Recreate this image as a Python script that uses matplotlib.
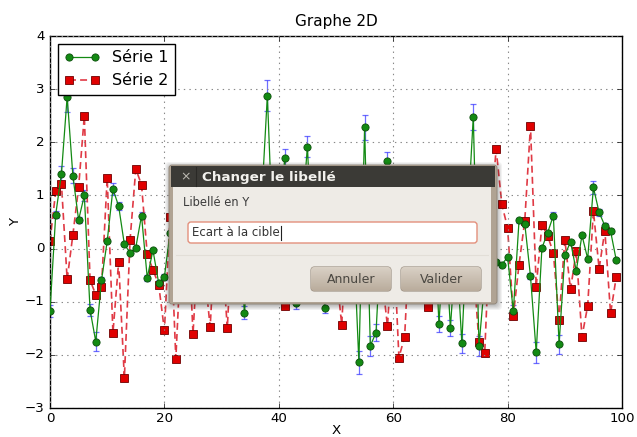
import numpy as np
import matplotlib
matplotlib.use('Agg')
import matplotlib.pyplot as plt
from matplotlib.patches import FancyBboxPatch, Rectangle
from matplotlib.colors import LinearSegmentedColormap

# données (x = 0..99)
x = np.arange(100)

serie1 = [-1.17, 0.64, 1.41, 2.86, 1.37, 0.54, 1.00, -1.15, -1.75, -0.60,
          0.14, 1.12, 0.80, 0.08, -0.08, 0.02, 0.62, -0.55, -0.03, -0.65,
          -0.53, 0.30, 0.50, -0.40, 0.90, -0.20, 0.40, -0.70, 0.20, 1.10,
          -0.30, 0.60, -0.50, 0.30, -1.21, 0.40, -0.20, 0.90, 2.88, 0.10,
          -0.60, 1.70, 0.20, -1.03, 0.50, 1.92, -0.40, 0.70, -1.11, 0.30,
          -0.50, 0.80, -0.20, 0.40, -2.14, 2.28, -1.83, -1.58, 0.50, 1.65,
          -0.30, 0.20, -0.70, 0.60, -0.10, 0.30, -0.60, 0.90, -1.42, 0.40,
          -1.49, 0.10, -1.78, 0.50, 2.48, -1.83, -0.60, 0.20, -0.25, -0.30,
          -0.16, -1.18, 0.53, 0.47, -0.52, -1.95, 0.01, 0.30, 0.62, -1.80,
          -0.13, 0.13, -0.42, 0.25, -0.19, 1.15, 0.68, 0.43, 0.33, -0.22]

serie2 = [0.14, 1.08, 1.22, -0.58, 0.26, 1.15, 2.50, -0.59, -0.87, -0.73,
          1.33, -1.59, -0.25, -2.44, 0.17, 1.50, 1.20, -0.11, -0.40, -0.68,
          -1.54, 0.60, -2.07, 0.20, 0.80, -1.61, 0.30, -0.40, -1.48, 0.50,
          0.10, -1.50, 0.70, -0.30, 0.40, -0.80, 0.90, 0.20, -0.50, 0.60,
          0.00, -1.08, 0.30, -0.60, 1.00, -0.20, 0.50, -0.70, 0.20, 0.80,
          -0.40, -1.43, 0.60, -0.10, 0.40, -0.60, 0.90, 0.10, -0.50, -1.46,
          0.30, -2.05, -1.66, 0.50, -0.30, 0.80, -1.10, 0.20, -0.50, 0.70,
          0.00, -0.60, 0.40, 1.00, -0.30, -1.76, -1.96, 0.60, 1.87, 0.83,
          0.39, -1.26, -0.30, 0.52, 2.31, -0.72, 0.45, 0.24, -0.08, -1.34,
          0.17, -0.77, -0.05, -1.66, -1.08, 0.71, -0.38, 0.34, -1.22, -0.53]

# erreur relative de 10 % sur la série 1
erreur_rel = 0.1
serie1 = np.array(serie1)
serie2 = np.array(serie2)
erreur = erreur_rel * np.abs(serie1)

plt.style.use('classic')
plt.rcParams['font.family'] = ['DejaVu Sans']
plt.rcParams['font.size'] = 9.6

fig = plt.figure(figsize=(6.37, 4.37), dpi=100, facecolor='white')
ax = fig.add_axes([50 / 637, 29 / 437, 572 / 637, 372 / 437])

ax.errorbar(x, serie1, yerr=erreur, fmt='none', ecolor='#3030ff', alpha=0.7,
            elinewidth=0.9, capsize=2.5, capthick=0.9, zorder=2)
ax.plot(x, serie1, 'o-', color='#138a13', lw=0.9, ms=5.2, mec='#0c4f0c',
        mew=0.6, label='Série 1', zorder=3)
ax.plot(x, serie2, 's--', color='#e03a45', lw=1.2, ms=5.3, mfc='#e00000',
        mec='#700000', mew=0.6, dashes=(5, 3), label='Série 2', zorder=2.5)

ax.set_xlim(0, 100)
ax.set_ylim(-3, 4)
ax.set_xticks([0, 20, 40, 60, 80, 100])
ax.set_yticks(range(-3, 5))
ax.grid(True, color='#888888', linestyle=':', linewidth=0.8)
ax.tick_params(direction='in', length=3.5, labelsize=9.6)
ax.tick_params(axis='x', pad=3)
ax.set_title('Graphe 2D', fontsize=11, pad=7)
ax.set_xlabel('X', fontsize=9.6, labelpad=-1)
ax.set_ylabel('Y', fontsize=9.6, labelpad=2)
leg = ax.legend(loc='upper left', numpoints=2, fontsize=11.5, fancybox=False,
                borderaxespad=0.5, handlelength=2.2)
leg.get_frame().set_linewidth(1.0)

# boîte de dialogue par-dessus le graphe (coordonnées en pixels)
ov = fig.add_axes([0, 0, 1, 1])
ov.axis('off')
ov.set_zorder(10)

# ombre
for i in range(6):
    ov.add_patch(FancyBboxPatch((170 - i, 165 - i + 2), 327 + 2 * i, 138 + 2 * i,
                                boxstyle='round,pad=0,rounding_size=4',
                                fc='black', ec='none', alpha=0.05))
ov.add_patch(FancyBboxPatch((169, 165), 328, 139, boxstyle='round,pad=0,rounding_size=3',
                            fc='#b0a393', ec='#8f8477', lw=0.6))
ov.add_patch(Rectangle((173, 187), 318, 115, fc='#eeebe6', ec='none'))
ov.add_patch(Rectangle((171, 166), 324, 21, fc='#3b3a36', ec='none'))
ov.text(186, 176.5, '×', color='#bdbab3', fontsize=9, ha='center', va='center')
ov.plot([196, 196], [167, 186], color='#2a2926', lw=0.8)
ov.text(202, 177, 'Changer le libellé', color='#f2f1ed', fontsize=9.7,
        fontweight='bold', ha='left', va='center')

ov.text(183, 203, 'Libellé en Y', color='#3c3c3c', fontsize=8.3, ha='left', va='center')

ov.add_patch(FancyBboxPatch((188, 222), 289, 21, boxstyle='round,pad=0,rounding_size=3',
                            fc='white', ec='#e3907c', lw=1.0))
ov.text(192, 233, 'Ecart à la cible', color='#333333', fontsize=8.5,
        ha='left', va='center')
ov.plot([280.5, 280.5], [226, 240], color='#222222', lw=0.8)
ov.plot([176, 488], [255, 255], color='#e2ded7', lw=0.8)

grad = np.linspace(0, 1, 50).reshape(-1, 1)
cmap_btn = LinearSegmentedColormap.from_list('btn', ['#d9d0c5', '#b9ac9c'])
for bx, label in [(311, 'Annuler'), (401, 'Valider')]:
    btn = FancyBboxPatch((bx, 267), 80, 24, boxstyle='round,pad=0,rounding_size=3.5',
                         fc='#c8bcad', ec='#968a7c', lw=0.8)
    ov.add_patch(btn)
    im = ov.imshow(grad, extent=(bx, bx + 80, 291, 267), cmap=cmap_btn,
                   aspect='auto', zorder=btn.get_zorder() + 0.1)
    im.set_clip_path(btn)
    ov.text(bx + 40, 279.5, label, color='#4a4741', fontsize=9, ha='center',
            va='center', zorder=5)
ov.set_xlim(0, 637)
ov.set_ylim(437, 0)

fig.savefig('out.png', dpi=100, facecolor='white')
